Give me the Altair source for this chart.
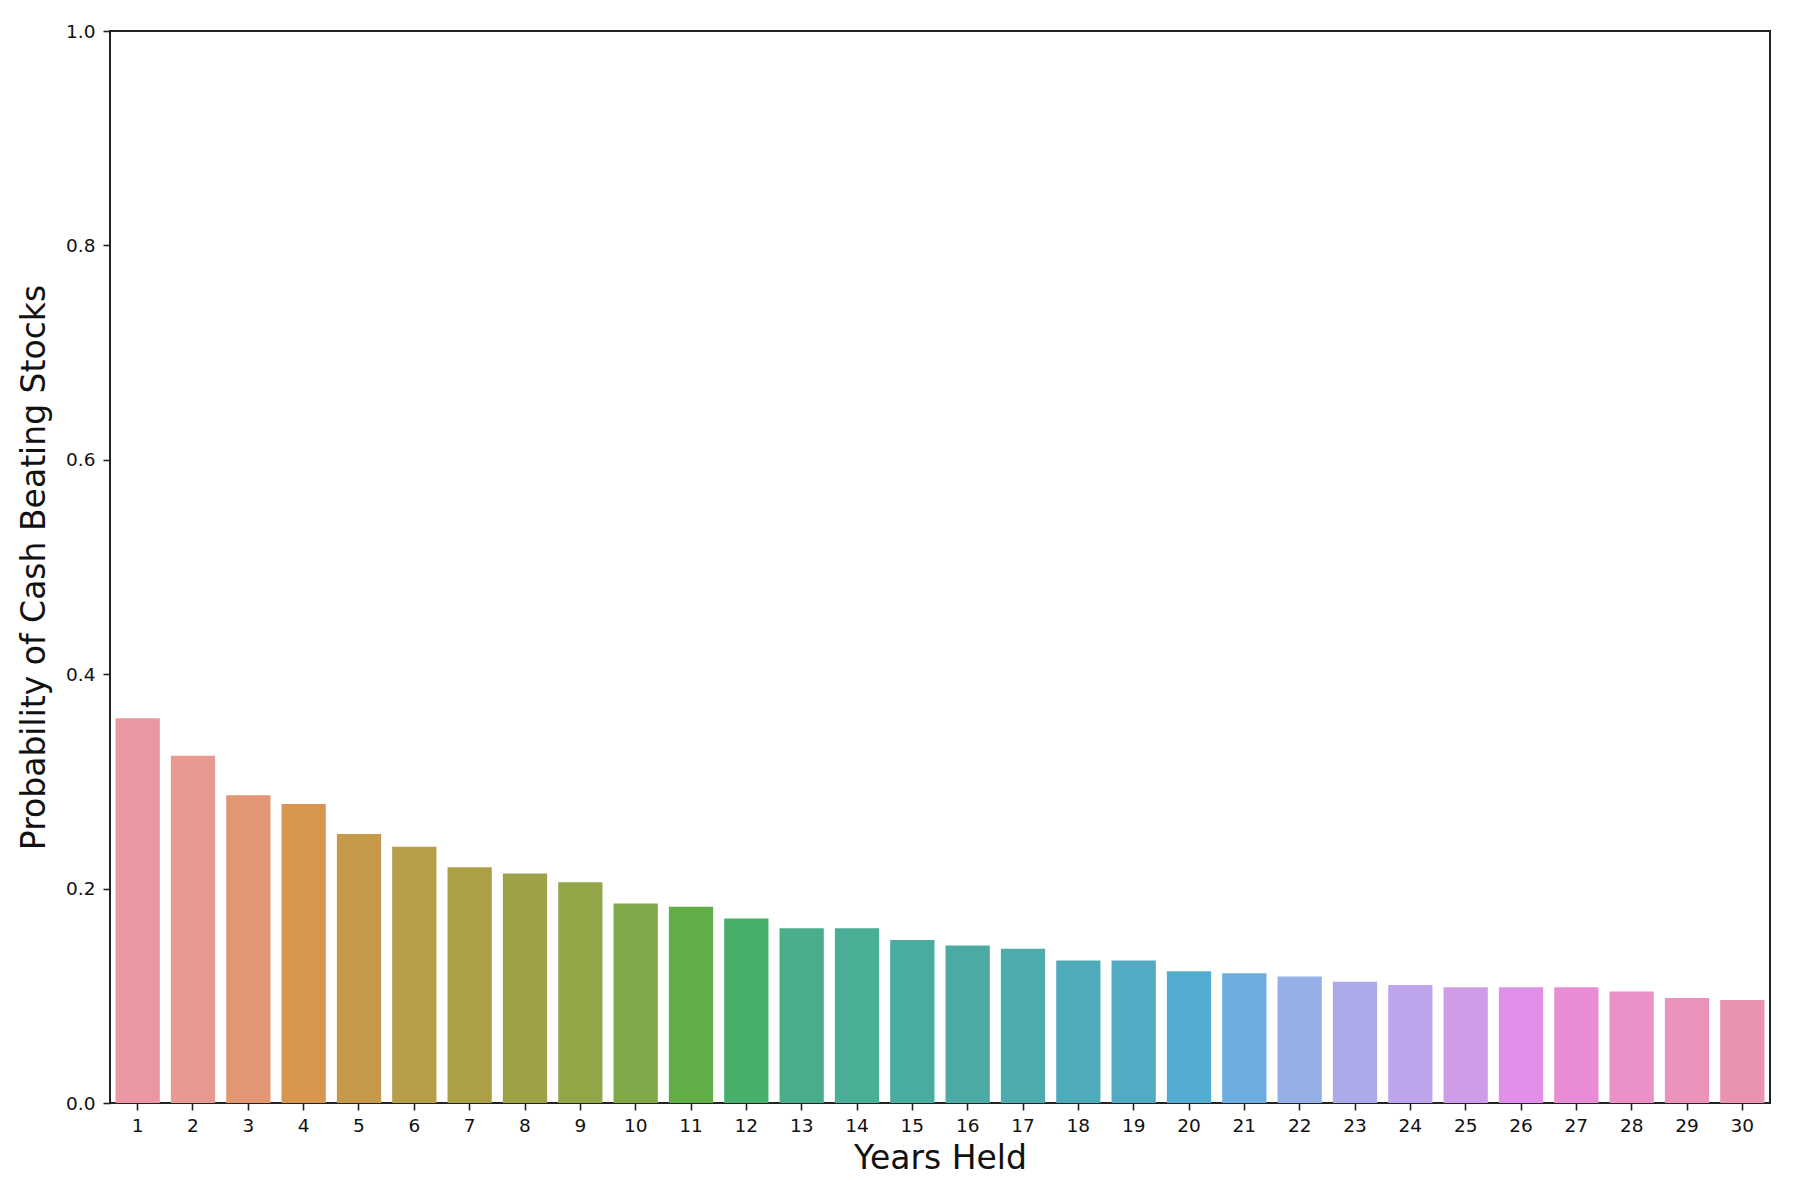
import altair as alt
import pandas as pd

years = list(range(1, 31))
probability = [0.359, 0.324, 0.287, 0.279, 0.251, 0.239, 0.220, 0.214, 0.206, 0.186,
               0.183, 0.172, 0.163, 0.163, 0.152, 0.147, 0.144, 0.133, 0.133, 0.123,
               0.121, 0.118, 0.113, 0.110, 0.108, 0.108, 0.108, 0.104, 0.098, 0.096]
colors = ["#ea96a3", "#e89a90", "#e39673", "#d6964f", "#c59a4b", "#b79c4a", "#ab9f48",
          "#9fa146", "#92a547", "#82a949", "#61ae48", "#48af69", "#49ae89", "#4aad95",
          "#4aac9e", "#4baaa4", "#4dabaf", "#4fabb9", "#52abc2", "#55acd1", "#6badde",
          "#95b0e6", "#adaaea", "#bea4eb", "#cf9ce7", "#df8fe8", "#e88cd6", "#eb90c9",
          "#ea91bc", "#ea93af"]

df = pd.DataFrame({"year": years, "prob": probability})

font = "DejaVu Sans"

chart = alt.Chart(df).mark_bar().encode(
    x=alt.X("year:O", title="Years Held",
            scale=alt.Scale(paddingInner=0.2, paddingOuter=0.1),
            axis=alt.Axis(labelAngle=0, labelPadding=6, titlePadding=8)),
    y=alt.Y("prob:Q", title="Probability of Cash Beating Stocks",
            scale=alt.Scale(domain=[0, 1], nice=False),
            axis=alt.Axis(values=[0, 0.2, 0.4, 0.6, 0.8, 1.0], format=".1f",
                          labelPadding=8, titlePadding=14)),
    color=alt.Color("year:O", scale=alt.Scale(domain=years, range=colors), legend=None),
).properties(
    width=1660, height=1072,
    autosize=alt.AutoSizeParams(type="none"),
    padding={"left": 102, "top": 23, "right": 22, "bottom": 89},
).configure_view(
    stroke="#222222", strokeWidth=2
).configure_axis(
    grid=False, domain=False,
    tickColor="#222222", tickSize=7, tickWidth=1.6,
    labelFont=font, labelFontSize=18.5, labelColor="#111111",
    titleFont=font, titleFontSize=33, titleFontWeight="normal", titleColor="#111111",
)

chart.save("out.html", embed_options={"renderer": "svg", "actions": False})
